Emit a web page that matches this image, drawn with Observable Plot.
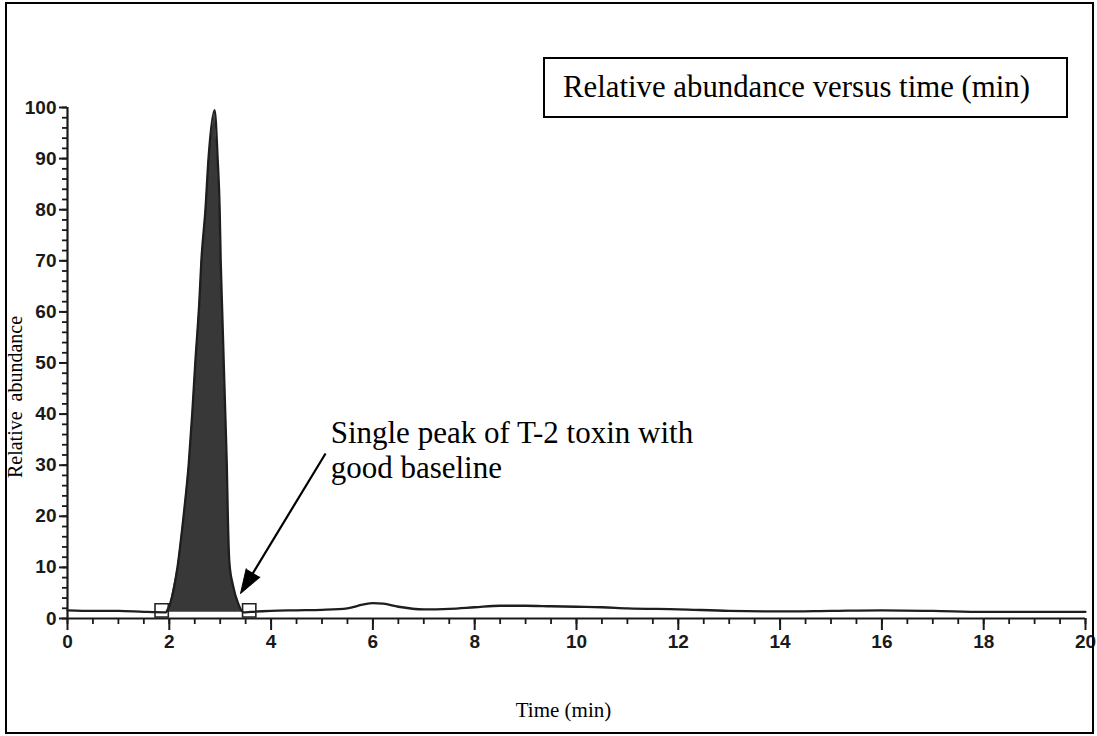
<!DOCTYPE html>
<html>
<head>
<meta charset="utf-8">
<script src="https://cdn.jsdelivr.net/npm/d3@7"></script>
<script src="https://cdn.jsdelivr.net/npm/@observablehq/plot@0.6"></script>
<style>
  html, body { margin: 0; padding: 0; background: #fff; overflow: hidden; }
  #wrap { position: relative; width: 1097px; height: 736px; }
  #border { position: absolute; left: 5px; top: 2px; right: 3px; bottom: 2px; border: 2px solid #000; pointer-events: none; }
  #legendBox { position: absolute; left: 543px; top: 57px; width: 503px; height: 57px; border: 2px solid #000;
    font-family: "Liberation Serif", "Times New Roman", serif; font-size: 30.8px; line-height: 57px; padding-left: 18px; box-sizing: content-box; color: #000; white-space: nowrap; }
  #chart { position: absolute; left: 0; top: 0; }
</style>
</head>
<body>
<div id="wrap">
  <div id="chart"></div>
  <div id="legendBox">Relative abundance versus time (min)</div>
  <div id="border"></div>
</div>
<script>
// Chromatogram trace: time (min) and relative abundance (%)
const time = [0, 0.5, 1, 1.5, 1.93, 2.02, 2.16, 2.28, 2.38, 2.45, 2.51, 2.59, 2.63, 2.71, 2.77, 2.89,
  2.95, 2.99, 3.01, 3.04, 3.07, 3.10, 3.13, 3.15, 3.18, 3.25, 3.35, 3.46,
  3.6, 4, 4.5, 5, 5.5, 5.8, 6, 6.2, 6.5, 7, 7.5, 8, 8.5, 9, 9.5, 10, 10.5, 11, 12, 13, 14, 15, 16, 17, 18, 19, 20];
const abundance = [1.6, 1.5, 1.5, 1.3, 1.2, 3, 10, 20, 30, 40, 50, 62, 70, 80, 90, 99.5,
  90, 80, 70, 60, 50, 40, 30, 20, 11, 6.5, 3, 1.2,
  1.3, 1.5, 1.6, 1.7, 2.0, 2.7, 3.0, 2.9, 2.3, 1.8, 1.9, 2.2, 2.5, 2.5, 2.4, 2.3, 2.2, 2.0, 1.8, 1.5, 1.4, 1.5, 1.6, 1.5, 1.3, 1.3, 1.3];

// Integrated peak (T-2 toxin) limits and baseline
const peakStart = 1.93;
const peakEnd = 3.46;
const peakBaseline = 1.2;

// Integration markers
const markerTime = [1.85, 3.57];
const markerAbundance = [1.6, 1.6];

// Tick labels
const xTickValues = [0, 2, 4, 6, 8, 10, 12, 14, 16, 18, 20];
const yTickValues = [0, 10, 20, 30, 40, 50, 60, 70, 80, 90, 100];
const xMinorTicks = d3.range(0, 20.01, 0.5);
const yMinorTicks = d3.range(0, 100.01, 2);

// Annotation
const noteText = ["Single peak of T-2 toxin with\ngood baseline"];
const noteTime = [5.17];
const noteAbundance = [39.3];
const arrowFrom = {time: 5.07, abundance: 32.3};
const arrowTo = {time: 3.40, abundance: 4.9};

const yLabel = "Relative  abundance";
const xLabel = "Time (min)";

const W = 1097, H = 736, ML = 67, MR = 12, MT = 107, MB = 118;
const xDomain = [0, 20], yDomain = [0, 100];

const trace = time.map((t, i) => ({time: t, abundance: abundance[i]}));
const peak = trace.filter(d => d.time >= peakStart && d.time <= peakEnd);
const markers = markerTime.map((t, i) => ({time: t, abundance: markerAbundance[i]}));
const note = noteText.map((s, i) => ({text: s, time: noteTime[i], abundance: noteAbundance[i]}));

// screen angle of the annotation arrow (for the filled head)
const kx = (W - ML - MR) / (xDomain[1] - xDomain[0]);
const ky = (H - MT - MB) / (yDomain[1] - yDomain[0]);
const dxp = (arrowTo.time - arrowFrom.time) * kx;
const dyp = -(arrowTo.abundance - arrowFrom.abundance) * ky;
const arrowAngle = Math.atan2(dxp, -dyp) * 180 / Math.PI;
const headLen = 24;
const lenP = Math.hypot(dxp, dyp);
const lineEnd = {
  time: arrowTo.time - (arrowTo.time - arrowFrom.time) * (headLen - 4) / lenP,
  abundance: arrowTo.abundance - (arrowTo.abundance - arrowFrom.abundance) * (headLen - 4) / lenP
};

const chart = Plot.plot({
  width: W, height: H,
  marginLeft: ML, marginRight: MR, marginTop: MT, marginBottom: MB,
  x: {domain: xDomain},
  y: {domain: yDomain},
  style: {fontFamily: "'Liberation Sans', Arial, sans-serif", background: "transparent", color: "#1a1a1a", overflow: "visible"},
  marks: [
    Plot.areaY(peak, {x: "time", y1: peakBaseline, y2: "abundance", fill: "#383838"}),
    Plot.line(trace, {x: "time", y: "abundance", stroke: "#1e1e1e", strokeWidth: 2.3, curve: "monotone-x"}),
    Plot.dot(markers, {x: "time", y: "abundance", symbol: "square", r: 7.5, fill: "none", stroke: "#222", strokeWidth: 1.6}),
    Plot.ruleX([0], {y1: 0, y2: 100, stroke: "#1a1a1a", strokeWidth: 2.2}),
    Plot.ruleY([0], {x1: 0, x2: 20, stroke: "#1a1a1a", strokeWidth: 2.2}),
    Plot.axisY(yTickValues, {tickSize: 8, tickPadding: 3, fontSize: 19, fontWeight: "bold", strokeWidth: 2, label: null}),
    Plot.axisY(yMinorTicks, {tickSize: 5, text: null, strokeWidth: 1.8, label: null}),
    Plot.axisX(xTickValues, {tickSize: 12, tickPadding: 4, fontSize: 19, fontWeight: "bold", strokeWidth: 2, label: null}),
    Plot.axisX(xMinorTicks, {tickSize: 6, text: null, strokeWidth: 1.8, label: null}),
    Plot.text(note, {x: "time", y: "abundance", text: "text", textAnchor: "start", lineAnchor: "top",
      fontSize: 31, lineHeight: 1.13, fontFamily: "'Liberation Serif', 'Times New Roman', serif", fill: "#000"}),
    Plot.link([{}], {x1: arrowFrom.time, y1: arrowFrom.abundance, x2: lineEnd.time, y2: lineEnd.abundance, stroke: "#000", strokeWidth: 2.2}),
    Plot.vector([{}], {x: arrowTo.time, y: arrowTo.abundance, rotate: arrowAngle, length: headLen, shape: "spike", r: 8, anchor: "end", fill: "#000", stroke: "#000", strokeWidth: 1}),
    Plot.text([yLabel], {frameAnchor: "left", textAnchor: "middle", lineAnchor: "middle", dx: -52, dy: 34, rotate: -90, fontSize: 20,
      fontFamily: "'Liberation Serif', 'Times New Roman', serif", fill: "#000"}),
    Plot.text([xLabel], {frameAnchor: "bottom", textAnchor: "middle", lineAnchor: "middle", dx: -13, dy: 92, fontSize: 21,
      fontFamily: "'Liberation Serif', 'Times New Roman', serif", fill: "#000"})
  ]
});
document.getElementById("chart").appendChild(chart);
</script>
</body>
</html>
